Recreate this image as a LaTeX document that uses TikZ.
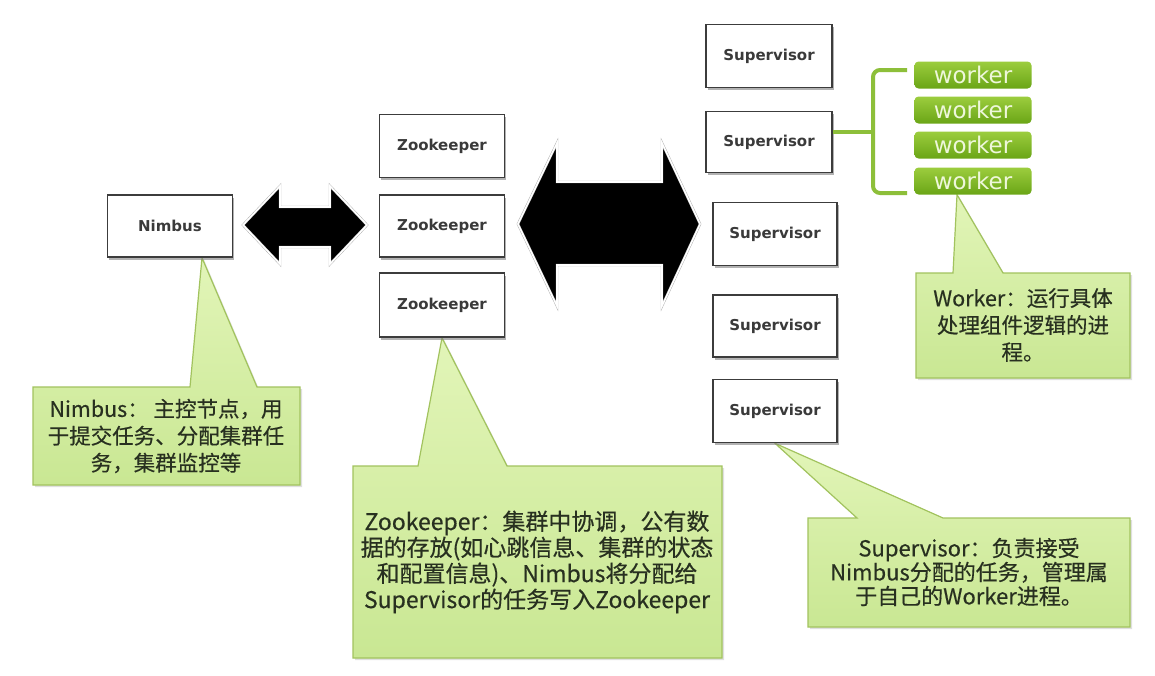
\documentclass[tikz,border=0pt]{standalone}
\usepackage{fontspec}
\setmainfont{Noto Sans CJK SC}
\newfontfamily\notefont{Noto Sans CJK SC}[FakeBold=0.4]
\newfontfamily\boxfont{DejaVu Sans}
\usetikzlibrary{shadows,backgrounds,calc}

\definecolor{boxline}{HTML}{3C3C3C}
\definecolor{boxtext}{HTML}{3A3A3A}
\definecolor{notetop}{HTML}{E2F5B8}
\definecolor{notebot}{HTML}{C9E793}
\definecolor{noteline}{HTML}{A2C35E}
\definecolor{notetext}{HTML}{283020}
\definecolor{workertop}{HTML}{9CCD3E}
\definecolor{workerbot}{HTML}{6AA516}
\definecolor{workertext}{HTML}{EEF7DA}
\definecolor{bracegreen}{HTML}{8DBF3A}

\tikzset{
  stormbox/.style={draw=boxline, fill=white, line width=1.6pt,
    minimum width=125pt, minimum height=62pt, inner sep=0pt,
    font=\boxfont\bfseries\fontsize{15}{17}\selectfont, text=boxtext,
    drop shadow={shadow xshift=1.5pt, shadow yshift=-2.5pt, opacity=0.6}},
  workerbar/.style={rounded corners=4pt, top color=workertop, bottom color=workerbot,
    minimum width=117pt, minimum height=27pt, inner sep=0pt,
    font=\boxfont\fontsize{23}{23}\selectfont, text=workertext},
  note/.style={draw=noteline, line width=1.2pt, top color=notetop, bottom color=notebot,
    drop shadow={shadow xshift=2pt, shadow yshift=-2pt, opacity=0.25}},
  notetext/.style={align=center, text=notetext, inner sep=0pt},
  bigarrow/.style={fill=black, draw=gray!70, double=white, double distance=1.6pt, line join=miter},
  brace/.style={draw=bracegreen, line width=4pt, rounded corners=7pt}
}

\begin{document}
\begin{tikzpicture}[x=1pt,y=-1pt]
\useasboundingbox (0,0) rectangle (1155,675);

% storm nodes
\node[stormbox] (nimbus) at (170,226) {Nimbus};
\node[stormbox, minimum height=63pt] (zk1) at (442,146) {Zookeeper};
\node[stormbox] (zk2) at (442,226) {Zookeeper};
\node[stormbox, minimum height=64pt] (zk3) at (442,305) {Zookeeper};
\node[stormbox, minimum width=126pt, minimum height=63pt] (sup1) at (769,56) {Supervisor};
\node[stormbox, minimum width=126pt, minimum height=61pt] (sup2) at (769,142) {Supervisor};
\node[stormbox, minimum width=124pt, minimum height=63pt] (sup3) at (775,234) {Supervisor};
\node[stormbox, minimum width=124pt] (sup4) at (775,326) {Supervisor};
\node[stormbox, minimum width=124pt, minimum height=63pt] (sup5) at (775,411) {Supervisor};

% workers
\node[workerbar] (w1) at (973,75) {worker};
\node[workerbar] (w2) at (973,110) {worker};
\node[workerbar] (w3) at (973,145) {worker};
\node[workerbar] (w4) at (973,181) {worker};

\coordinate (bmid) at (873,132);
\draw[brace] (907,70) -- (873,70) -- (873,193) -- (907,193);
\draw[brace, rounded corners=0pt] (sup2.east |- bmid) -- (bmid);

% double arrows
\draw[bigarrow] (243,225) -- (280,186) -- (280,207) -- (330,207) -- (330,186) -- (367,225)
  -- (330,264) -- (330,247) -- (280,247) -- (280,264) -- cycle;
\draw[bigarrow] (518,224) -- (557,143) -- (557,182) -- (662,182) -- (662,143) -- (700,224)
  -- (662,306) -- (662,265) -- (557,265) -- (557,306) -- cycle;

% callout texts
\node[notetext, font=\notefont\fontsize{21.5}{27}\selectfont] (nimbusnote) at (166,436)
  {Nimbus： 主控节点，用\\于提交任务、分配集群任\\务，集群监控等};
\node[notetext, font=\notefont\fontsize{23}{26}\selectfont] (zknote) at (537,562)
  {Zookeeper：集群中协调，公有数\\据的存放(如心跳信息、集群的状态\\和配置信息)、Nimbus将分配给\\Supervisor的任务写入Zookeeper};
\node[notetext, font=\notefont\fontsize{21.5}{27}\selectfont] (workernote) at (1023,325)
  {Worker：运行具体\\处理组件逻辑的进\\程。};
\node[notetext, font=\notefont\fontsize{22}{24}\selectfont] (supnote) at (969,572)
  {Supervisor：负责接受\\Nimbus分配的任务，管理属\\于自己的Worker进程。};

\begin{scope}[on background layer]
\fill[white] (0,0) rectangle (1155,675);
\draw[note] (33,387) -- (190,387) -- ($(nimbus.south)+(32,0)$) -- (257,387) -- (300,387)
  -- (300,485) -- (33,485) -- cycle;
\draw[note] (353,466) -- (418,466) -- (zk3.south) -- (507,466) -- (722,466)
  -- (722,658) -- (353,658) -- cycle;
\draw[note] (916,273) -- (953,273) -- ($(w4.south)+(-16,0)$) -- (1003,273) -- (1130,273)
  -- (1130,378) -- (916,378) -- cycle;
\draw[note] (808,518) -- (857,518) -- (sup5.south) -- (943,518) -- (1130,518)
  -- (1130,627) -- (808,627) -- cycle;
\end{scope}
\end{tikzpicture}
\end{document}
